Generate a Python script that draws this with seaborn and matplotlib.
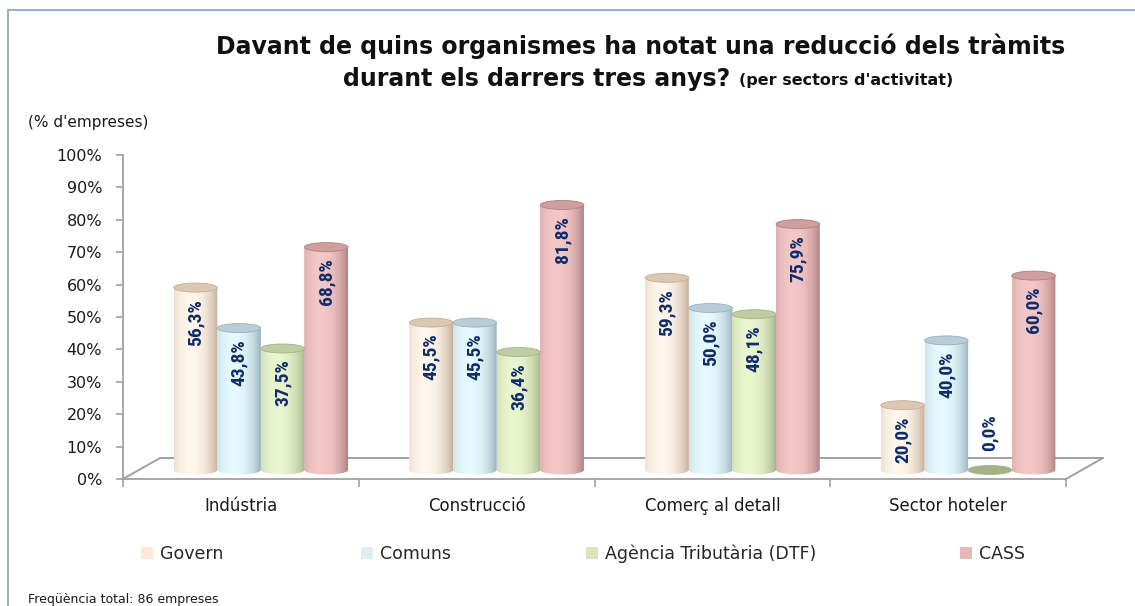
import numpy as np
import pandas as pd
import matplotlib
matplotlib.use("Agg")
import matplotlib.pyplot as plt
import seaborn as sns
from matplotlib import font_manager
from matplotlib.patches import Ellipse, PathPatch, Rectangle
from matplotlib.path import Path
from matplotlib.lines import Line2D
from matplotlib.colors import to_rgb

# ---------------- data ----------------
sectors = ["Indústria", "Construcció", "Comerç al detall", "Sector hoteler"]
organismes = ["Govern", "Comuns", "Agència Tributària (DTF)", "CASS"]
govern = [56.3, 45.5, 59.3, 20.0]
comuns = [43.8, 45.5, 50.0, 40.0]
agencia = [37.5, 36.4, 48.1, 0.0]
cass = [68.8, 81.8, 75.9, 60.0]
y_ticks = [0, 10, 20, 30, 40, 50, 60, 70, 80, 90, 100]
y_tick_labels = [f"{t}%" for t in y_ticks]

title_line1 = "Davant de quins organismes ha notat una reducció dels tràmits"
title_line2a = "durant els darrers tres anys?"
title_line2b = "(per sectors d'activitat)"
y_label = "(% d'empreses)"
footer = "Freqüència total: 86 empreses"

# ---------------- styles ----------------
legend_colors = ["#FDE9D9", "#DAEEF3", "#D7E4BD", "#E6B9B8"]
dark_colors = ["#C4AC96", "#98B0BC", "#A3B389", "#B07E7E"]
light_colors = ["#FFF7EC", "#E6FBFF", "#EAF6CF", "#F5C8C8"]
top_colors = ["#DCC7B3", "#B7CDD7", "#BFCDA3", "#CF9E9E"]
label_color = "#0E2C6A"

sns.set_theme(style="white")
plt.rcParams["font.family"] = ["DejaVu Sans"]

available = {f.name for f in font_manager.fontManager.ttflist}
narrow_candidates = ["Liberation Sans Narrow", "DejaVu Sans Condensed",
                     "Roboto Condensed", "Open Sans Condensed"]
narrow = next((n for n in narrow_candidates if n in available), None)
if narrow is not None:
    label_family = [narrow, "DejaVu Sans"]
    label_size = 14
else:
    label_family = ["Roboto", "DejaVu Sans"]
    label_size = 13.5

W, H = 1135, 606
fig = plt.figure(figsize=(W / 100, H / 100), dpi=100)
fig.patch.set_facecolor("white")

def fx(px):
    return px / W

def fy(py):
    return 1 - py / H

# front (axis) plane
fl, fr, fb, ft = 123, 1066, 479, 155
px_per_unit = (fb - ft) / 100.0
ax = fig.add_axes([fx(fl), fy(fb), fx(fr - fl), (fb - ft) / H])
# bars plane (3D depth offset); extra room below zero for the rounded bottoms
dxp, dyp = 20, 9
ymin_b = -3
bax = fig.add_axes([fx(fl + dxp), fy(fb - dyp + (-ymin_b) * px_per_unit),
                    fx(fr - fl), (100 - ymin_b) * px_per_unit / H], zorder=3)
bax.patch.set_alpha(0)

df = pd.DataFrame({
    "sector": np.repeat(sectors, len(organismes)),
    "organisme": organismes * len(sectors),
    "value": np.ravel(np.column_stack([govern, comuns, agencia, cass])),
})

sns.barplot(data=df, x="sector", y="value", hue="organisme", order=sectors,
            hue_order=organismes, palette=legend_colors, saturation=1,
            width=0.74, ax=bax, legend=False, errorbar=None)

ax.set_xlim(-0.5, len(sectors) - 0.5)
ax.set_ylim(0, 100)
bax.set_xlim(-0.5, len(sectors) - 0.5)
bax.set_ylim(ymin_b, 100)
bax.axis("off")

ell_h = 9.0 / px_per_unit

def profile(t):
    f = 1 - ((t - 0.38) / 0.62) ** 2
    return np.clip(f, 0, 1) ** 0.8

for ci, cont in enumerate(bax.containers):
    dark = np.array(to_rgb(dark_colors[ci]))
    light = np.array(to_rgb(light_colors[ci]))
    for patch in cont.patches:
        x0 = patch.get_x()
        w = patch.get_width()
        h = patch.get_height()
        cx = x0 + w / 2
        patch.set_facecolor(light_colors[ci])
        patch.set_edgecolor("none")
        t = np.linspace(0, 1, 80)
        grad = dark[None, :] + (light - dark)[None, :] * profile(t)[:, None]
        img = grad[None, :, :]
        th = np.linspace(np.pi, 2 * np.pi, 40)
        verts = [(x0, h), (x0, 0)]
        verts += [(cx + w / 2 * np.cos(a_), ell_h / 2 * np.sin(a_)) for a_ in th]
        verts += [(x0 + w, 0), (x0 + w, h), (x0, h)]
        clip = PathPatch(Path(verts), transform=bax.transData, facecolor="none")
        if h > 0:
            im = bax.imshow(img, extent=[x0, x0 + w, -ell_h / 2, h],
                            aspect="auto", zorder=2, interpolation="bilinear")
            im.set_clip_path(clip)
        top = Ellipse((cx, h), w, ell_h,
                      facecolor=top_colors[ci] if h > 0 else dark_colors[ci],
                      edgecolor=dark_colors[ci], lw=0.6, zorder=3, clip_on=False)
        bax.add_patch(top)

# value labels
for ci, cont in enumerate(bax.containers):
    for patch in cont.patches:
        h = patch.get_height()
        cx = patch.get_x() + patch.get_width() / 2
        txt = f"{h:.1f}%".replace(".", ",")
        inside = h > 5
        bax.annotate(txt, (cx, h), xytext=(0, -8 if inside else 14),
                     textcoords="offset points", rotation=90, ha="center",
                     va="top" if inside else "bottom", fontsize=label_size,
                     fontweight="bold", color=label_color, zorder=5,
                     family=label_family)

bax.set_xlim(-0.5, len(sectors) - 0.5)
bax.set_ylim(ymin_b, 100)

# front axes styling
axis_gray = "#A0A0A0"
for s in ["top", "right"]:
    ax.spines[s].set_visible(False)
for s in ["left", "bottom"]:
    ax.spines[s].set_color(axis_gray)
    ax.spines[s].set_linewidth(1.3)
ax.patch.set_alpha(0)
ax.set_yticks(y_ticks)
ax.set_yticklabels(y_tick_labels, fontsize=11.5, color="#1A1A1A")
ax.tick_params(axis="y", direction="out", length=5, width=1.2, color=axis_gray, pad=10, left=True)
ax.set_xticks(range(len(sectors)))
ax.set_xticklabels(sectors, fontsize=12, color="#1A1A1A")
ax.tick_params(axis="x", which="major", length=0, pad=13)
ax.set_xticks(np.arange(-0.5, len(sectors), 1.0), minor=True)
ax.tick_params(axis="x", which="minor", direction="out", length=6, width=1.2, color=axis_gray, bottom=True)
ax.set_xlabel("")
ax.set_ylabel("")
bax.set_xlabel("")
bax.set_ylabel("")
ax.grid(False)

# 3D floor outline
ddx = 37 / ((fr - fl) / len(sectors))
ddy = 21 / px_per_unit
xl, xr = -0.5, len(sectors) - 0.5
floor_kw = dict(color=axis_gray, lw=1.4, clip_on=False, zorder=1)
ax.add_line(Line2D([xl + ddx, xr + ddx], [ddy, ddy], **floor_kw))
ax.add_line(Line2D([xl, xl + ddx], [0, ddy], **floor_kw))
ax.add_line(Line2D([xr, xr + ddx], [0, ddy], **floor_kw))

# titles
fig.text(fx(641), fy(46), title_line1, ha="center", va="center",
         fontsize=17, fontweight="bold", color="#111111")
fig.text(fx(730), fy(79), title_line2a, ha="right", va="center",
         fontsize=17, fontweight="bold", color="#111111")
fig.text(fx(739), fy(80), title_line2b, ha="left", va="center",
         fontsize=11.5, fontweight="bold", color="#111111")
fig.text(fx(28), fy(123), y_label, ha="left", va="center", fontsize=11, color="#1A1A1A")
fig.text(fx(28), fy(600), footer, ha="left", va="center", fontsize=9, color="#1A1A1A")

# legend (one entry per slot, as in the reference)
leg_x = [141, 361, 586, 960]
for i, name in enumerate(organismes):
    handle = Rectangle((0, 0), 1, 1, facecolor=legend_colors[i], edgecolor="none")
    fig.legend(handles=[handle], labels=[name], loc="center left",
               bbox_to_anchor=(fx(leg_x[i]), fy(554)), frameon=False,
               fontsize=12.5, handlelength=0.7, handleheight=0.7,
               handletextpad=0.4, borderpad=0, borderaxespad=0)

# chart border (left and top)
border = "#8EA7C8"
fig.add_artist(Line2D([fx(8), fx(8)], [0, fy(10)], color=border, lw=1.3, transform=fig.transFigure))
fig.add_artist(Line2D([fx(8), 1], [fy(10), fy(10)], color=border, lw=1.3, transform=fig.transFigure))

fig.savefig("out.png", dpi=100, facecolor="white")
